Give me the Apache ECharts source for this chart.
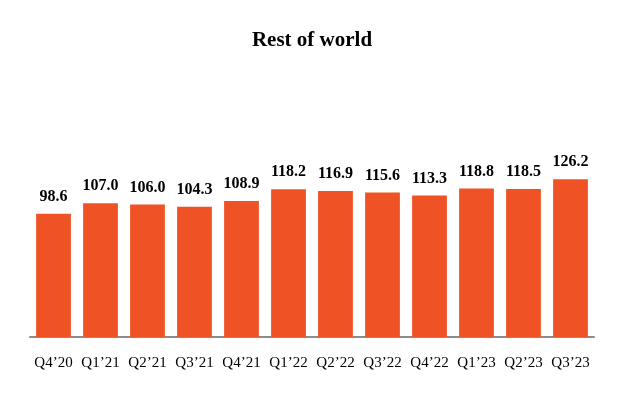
<!DOCTYPE html>
<html><head><meta charset="utf-8">
<script src="https://cdn.jsdelivr.net/npm/echarts@6/dist/echarts.min.js"></script>
<style>html,body{margin:0;padding:0;background:#fff}#c{width:624px;height:400px}</style>
</head><body><div id="c"></div>
<script>
const categories = ["Q4’20","Q1’21","Q2’21","Q3’21","Q4’21","Q1’22","Q2’22","Q3’22","Q4’22","Q1’23","Q2’23","Q3’23"];
const values = [98.6,107.0,106.0,104.3,108.9,118.2,116.9,115.6,113.3,118.8,118.5,126.2];
const chart = echarts.init(document.getElementById('c'));
chart.setOption({
  animation:false,
  title:{text:"Rest of world",left:'center',top:25,textStyle:{fontFamily:"Liberation Serif",fontWeight:'bold',fontSize:21,color:'#000'}},
  grid:{left:30,right:30,top:162,bottom:63},
  xAxis:{type:'category',data:categories,
    axisLine:{lineStyle:{color:'#8c8c8c',width:2}},axisTick:{show:false},
    axisLabel:{interval:0,fontFamily:"Liberation Serif",fontSize:15,color:'#000',margin:19}},
  yAxis:{type:'value',min:0,max:140,show:false,splitLine:{show:false}},
  series:[{type:'bar',data:values,barWidth:'74%',itemStyle:{color:'#EF5325'},
    label:{show:true,position:'top',distance:9,formatter:p=>p.value.toFixed(1),
      fontFamily:"Liberation Serif",fontWeight:'bold',fontSize:16,color:'#000'}}]
});
</script></body></html>
